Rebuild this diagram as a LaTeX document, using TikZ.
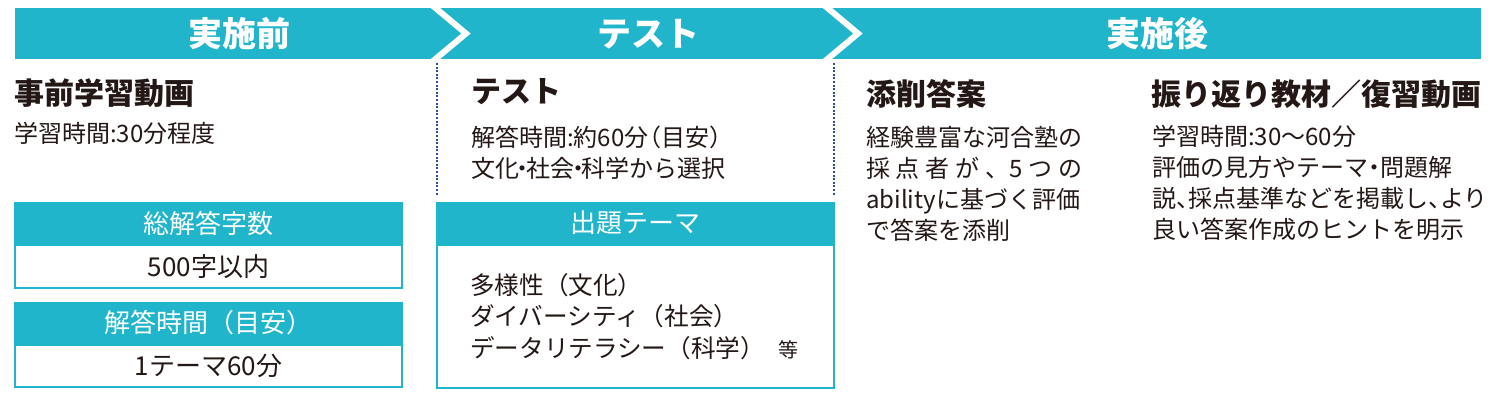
\documentclass[tikz,border=0pt]{standalone}
\usepackage{fontspec}
\setmainfont{Noto Sans CJK JP}
\definecolor{bannercol}{RGB}{33,181,204}
\definecolor{inkcol}{RGB}{35,24,21}
\definecolor{dotcol}{RGB}{46,79,156}
\newcommand{\hc}{\makebox[0.5em][l]{、}}
\newcommand{\nd}{\makebox[0.3em]{・}}
\newcommand{\hd}{\makebox[0.5em]{・}}
\newcommand{\lp}{\makebox[0.55em][r]{（}}
\newcommand{\rp}{\makebox[0.55em][l]{）}}
\tikzset{
  bannertext/.style={font=\fontsize{34}{34}\selectfont\bfseries, text=white, inner sep=0pt},
  titletext/.style={font=\fontsize{30}{30}\selectfont\bfseries, text=inkcol, inner sep=0pt, anchor=west},
  bodytext/.style={font=\fontsize{24}{31}\selectfont, text=inkcol, inner sep=0pt, anchor=west, align=left},
  dotline/.style={dotcol, line width=2pt, dash pattern=on 2pt off 1.6pt},
  hdrbox/.style={fill=bannercol, draw=bannercol, line width=2pt, text=white, inner sep=0pt,
    font=\fontsize{26}{26}\selectfont, minimum height=40pt},
  cellbox/.style={fill=white, draw=bannercol, line width=2pt, text=inkcol, inner sep=0pt,
    font=\fontsize{26}{26}\selectfont},
}
\begin{document}
\begin{tikzpicture}[x=1pt,y=-1pt]
\useasboundingbox (0,0) rectangle (1492,400);
\fill[white] (0,0) rectangle (1492,400);

% banner with chevrons
\begin{scope}
\clip (15,8) rectangle (1481,59);
\fill[bannercol] (15,8) rectangle (1481,59);
\draw[white, line width=6pt, miter limit=10] (425.9,0) -- (466,33.5) -- (425.9,67);
\draw[white, line width=6pt, miter limit=10] (817.9,0) -- (858,33.5) -- (817.9,67);
\end{scope}
\node[bannertext] (b1) at (239,34) {実施前};
\node[bannertext] (b2) at (648,34) {テスト};
\node[bannertext] (b3) at (1157,34) {実施後};

% dotted separators
\coordinate (d1t) at (437,63);
\coordinate (d1b) at (437,196);
\coordinate (d2t) at (834,63);
\coordinate (d2b) at (834,196);
\draw[dotline] (d1t) -- (d1b);
\draw[dotline] (d2t) -- (d2b);

% left column
\node[titletext] (t1) at (14,93.5) {事前学習動画};
\node[bodytext] (s1) at (14,133) {学習時間:30分程度};

\node[hdrbox, minimum width=387pt] (h1) at (208.5,223) {総解答字数};
\node[cellbox, minimum width=387pt, minimum height=43pt, anchor=north] (c1) at (h1.south) {500字以内};
\node[hdrbox, minimum width=387pt] (h2) at (208.5,323) {解答時間（目安）};
\node[cellbox, minimum width=387pt, minimum height=42pt, anchor=north] (c2) at (h2.south) {1テーマ60分};

% middle column
\node[titletext] (t2) at (471,92) {テスト};
\node[bodytext] (s2) at (471,152.5) {解答時間:約60分\lp 目安\rp\\文化\nd 社会\nd 科学から選択};

\node[hdrbox, minimum width=397pt] (h3) at (635.5,223) {出題テーマ};
\node[cellbox, minimum width=397pt, minimum height=143pt, anchor=north] (c3) at (h3.south) {};
\node[bodytext, font=\fontsize{24.6}{31.5}\selectfont] (s3) at (470,316.5)
  {多様性（文化）\\ダイバーシティ（社会）\\データリテラシー（科学）\hspace{14pt}{\fontsize{20}{20}\selectfont 等}};

% right columns
\node[titletext] (t3) at (866,94) {添削答案};
\node[bodytext] (s4) at (866,183.5)
  {経験豊富な河合塾の\\
   \makebox[216pt][l]{採\hfill 点\hfill 者\hfill が\hfill 、5\hfill つ\hfill の}\\
   abilityに基づく評価\\
   で答案を添削};

\node[titletext] (t4) at (1151,94) {振り返り教材／復習動画};
\node[bodytext] (s5) at (1152,183)
  {学習時間:30〜60分\\
   評価の見方やテーマ\hd 問題解\\
   説\hc 採点基準などを掲載し\hc より\\
   良い答案作成のヒントを明示};
\end{tikzpicture}
\end{document}
